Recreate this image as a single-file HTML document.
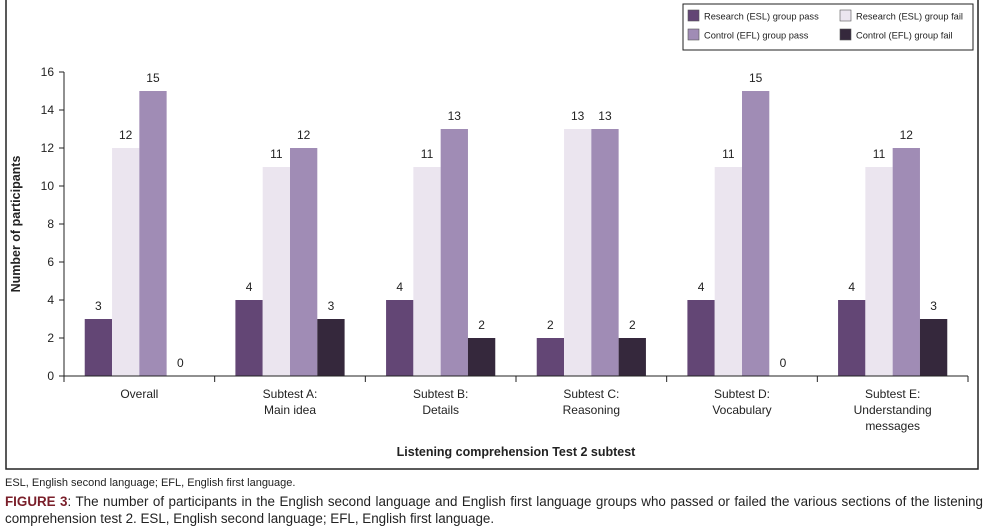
<!DOCTYPE html>
<html><head><meta charset="utf-8"><style>
body{margin:0;width:988px;height:529px;background:#fff;font-family:"Liberation Sans",sans-serif;overflow:hidden;position:relative}
svg{position:absolute;left:0;top:0}
.cap{position:absolute;left:5px;font-size:11px;color:#222}
</style></head><body>
<svg id="chart" width="988" height="470">
<rect x="6" y="-2" width="972" height="471" fill="none" stroke="#222" stroke-width="1.5"/>
<g id="legend"></g>
<g id="plot"></g>
<text x="20" y="224" transform="rotate(-90 20 224)" text-anchor="middle" font-size="12.5" font-weight="bold" fill="#222">Number of participants</text>
<text x="516" y="456" text-anchor="middle" font-size="12.5" font-weight="bold" fill="#222">Listening comprehension Test 2 subtest</text>
</svg>
<div class="cap" style="top:477px">ESL, English second language; EFL, English first language.</div>
<div class="cap" style="top:493px;width:978px;text-align:justify;text-align-last:left;line-height:17px;font-size:13.4px"><b style="color:#7a1f2a">FIGURE 3</b>: The number of participants in the English second language and English first language groups who passed or failed the various sections of the listening comprehension test 2. ESL, English second language; EFL, English first language.</div>
<script>
const categories=[["Overall"],["Subtest A:","Main idea"],["Subtest B:","Details"],["Subtest C:","Reasoning"],["Subtest D:","Vocabulary"],["Subtest E:","Understanding","messages"]];
const seriesNames=["Research (ESL) group pass","Research (ESL) group fail","Control (EFL) group pass","Control (EFL) group fail"];
const eslPass=[3,4,4,2,4,4];
const eslFail=[12,11,11,13,11,11];
const eflPass=[15,12,13,13,15,12];
const eflFail=[0,3,2,2,0,3];
const yTicks=[0,2,4,6,8,10,12,14,16];
const colors=["#634675","#ebe5ef","#a08cb5","#35283c"];
const series=[eslPass,eslFail,eflPass,eflFail];
const NS="http://www.w3.org/2000/svg";
const X0=64,X1=968,Y0=376,Y1=72;
const y=v=>Y0-(v-0)/(16-0)*(Y0-Y1);
const bw=(X1-X0)/categories.length;
const barW=27.3;
const xb=(i,s)=>X0+i*bw+(bw-4*barW)/2+s*barW;
const plot=document.getElementById('plot');
function mk(t,a,p){const e=document.createElementNS(NS,t);for(const k in a)e.setAttribute(k,a[k]);(p||plot).appendChild(e);return e;}
yTicks.forEach(v=>{
 mk('line',{x1:X0-5,x2:X0,y1:y(v),y2:y(v),stroke:'#222'});
 const t=mk('text',{x:X0-10,y:y(v)+4,'text-anchor':'end','font-size':12,fill:'#222'});t.textContent=v;
 
 
});
series.forEach((arr,s)=>arr.forEach((v,i)=>{
 const r=mk('rect',{x:xb(i,s),y:y(v),width:barW,height:Y0-y(v),fill:colors[s]});
 
 
 const t=mk('text',{x:xb(i,s)+barW/2,y:y(v)-9,'text-anchor':'middle','font-size':12,fill:'#222'});t.textContent=v;
 
 
}));
mk('line',{x1:X0,x2:X0,y1:Y1,y2:Y0,stroke:'#222'});
mk('line',{x1:X0,x2:X1,y1:Y0,y2:Y0,stroke:'#222'});
categories.forEach((c,i)=>{
 mk('line',{x1:X0+i*bw,x2:X0+i*bw,y1:Y0,y2:Y0+6,stroke:'#222'});
 c.forEach((ln,j)=>{const t=mk('text',{x:X0+(i+0.5)*bw,y:Y0+22+j*16,'text-anchor':'middle','font-size':12,fill:'#222'});t.textContent=ln;
 
 });
});
mk('line',{x1:X1,x2:X1,y1:Y0,y2:Y0+6,stroke:'#222'});
const lg=document.getElementById('legend');
mk('rect',{x:683,y:4,width:290,height:46,fill:'#fff',stroke:'#222'},lg);
seriesNames.forEach((n,k)=>{
 const pos=[[688,10],[840,10],[688,29],[840,29]][k];
 mk('rect',{x:pos[0],y:pos[1],width:11,height:11,fill:colors[k],stroke:'#555','stroke-width':0.6},lg);
 const t=mk('text',{x:pos[0]+16,y:pos[1]+9.5,'font-size':9.3,fill:'#222'},lg);t.textContent=n;
 
 
});
</script>
</body></html>
